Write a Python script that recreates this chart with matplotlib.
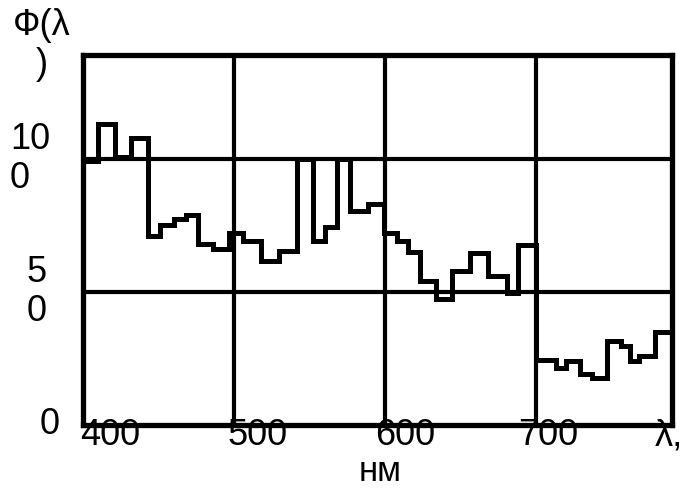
import numpy as np
import matplotlib.pyplot as plt
from matplotlib.transforms import blended_transform_factory

# spectral bins (nm) and relative flux in each bin
edges = [400, 410, 421, 432, 443, 451, 460, 468, 476, 486,
         497, 506, 518, 530, 542, 552, 560, 568, 577, 589,
         599, 608, 615, 623, 634, 644, 656, 668, 681, 688,
         700, 713, 720, 729, 737, 747, 756, 762, 768, 779, 790]
flux = [99, 113, 100.5, 108, 71, 75, 77.5, 79, 68, 66,
        72, 69, 61.5, 65.5, 100, 69, 74.5, 100, 80.5, 83,
        72, 69, 65, 54, 47.5, 58, 64.5, 56, 49.5, 67.5,
        24.5, 21.5, 24, 19, 17.5, 31.5, 29.5, 24, 26, 35]

xticks = [400, 500, 600, 700]
xlabels = ['400', '500', '600', '700']
yticks = [0, 50, 100]
ylabels = ['0', '5\n0', '10\n0']

W, H = 685, 490
fs = 26
plt.rcParams['font.family'] = ['Liberation Sans', 'DejaVu Sans']

fig = plt.figure(figsize=(W / 100, H / 100), dpi=100)
ax = fig.add_axes([83 / W, 1 - 425 / H, (672 - 83) / W, (425 - 55) / H])

ax.stairs(flux, edges, color='k', lw=3.6, baseline=None, zorder=3)

ax.set_xlim(400, 790)
ax.set_ylim(0, 139)
ax.set_xticks(xticks[1:])
ax.set_yticks(yticks[1:])
ax.tick_params(length=0, labelbottom=False, labelleft=False)
ax.grid(True, color='k', lw=3)
for s in ax.spines.values():
    s.set_linewidth(3.8)

# tick labels placed like the original (offset from the grid lines)
xlab_px = [110, 258, 405, 548]
for lab, xp in zip(xlabels, xlab_px):
    fig.text(xp / W, 1 - 445 / H, lab, ha='center', va='baseline', fontsize=fs)

ytrans = blended_transform_factory(fig.transFigure, ax.transData)
ylab_px = [40, 27, 10]
for lab, v, xp in zip(ylabels, yticks, ylab_px):
    ax.text(xp / W, v, lab, transform=ytrans, ha='left', va='center',
            fontsize=fs, linespacing=1.15, multialignment='left')

fig.text(13 / W, 1 - 8 / H, 'Ф(λ\n)', ha='left', va='top', fontsize=fs, linespacing=1.15,
         multialignment='center')
fig.text(669 / W, 1 - 445 / H, 'λ,', ha='center', va='baseline', fontsize=fs)
fig.text(380 / W, 1 - 481 / H, 'нм', ha='center', va='baseline', fontsize=25)

fig.savefig('out.png', dpi=100)
